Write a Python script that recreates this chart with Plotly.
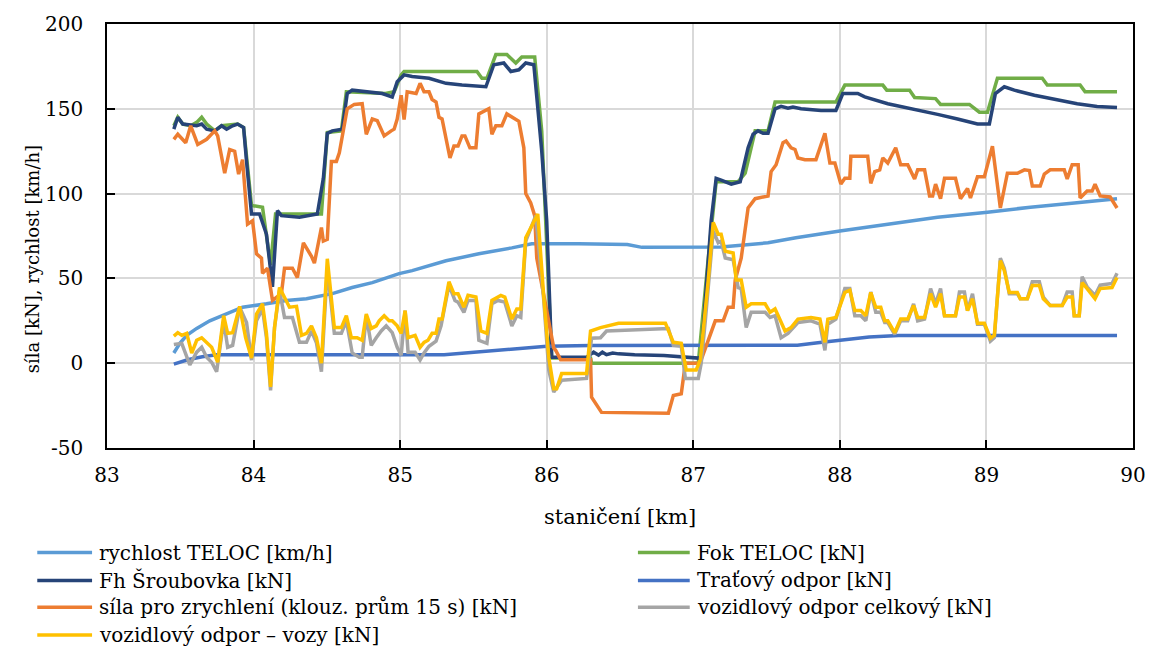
import plotly.graph_objects as go

# ---------------- data: staničení [km] / hodnota ----------------
rychlost_km = [83.456, 83.497, 83.544, 83.612, 83.701, 83.816, 83.925, 84.088, 84.224, 84.361,
               84.537, 84.673, 84.810, 84.993, 85.082, 85.313, 85.537, 85.762, 85.898, 86.218,
               86.55, 86.65, 87.19, 87.51, 87.70, 88.00, 88.30, 88.531, 88.667, 89.007,
               89.30, 89.60, 89.891]
rychlost = [6, 11.7, 16.4, 20.5, 25, 29, 33, 35, 37, 38,
            41, 44.6, 47.5, 52.8, 54.6, 60.4, 64.5, 68, 70.4, 70.4,
            70, 68.3, 68.5, 71, 74, 78, 81.5, 84.5, 86, 89,
            92, 94.5, 97]

fok_km = [83.456, 83.483, 83.517, 83.571, 83.612, 83.646, 83.680, 83.735, 83.782, 83.891,
          83.932, 83.952, 83.986, 84.061, 84.116, 84.150, 84.200, 84.463, 84.503, 84.599,
          84.633, 84.900, 84.959, 85.007, 85.027, 85.524, 85.558, 85.592, 85.653, 85.728,
          85.789, 85.830, 85.918, 85.966, 86.034, 86.299, 86.306, 87.034, 87.100, 87.156,
          87.306, 87.354, 87.422, 87.510, 87.558, 87.973, 88.034, 88.293, 88.320, 88.476,
          88.510, 88.653, 88.687, 88.884, 88.952, 89.007, 89.075, 89.381, 89.415, 89.639,
          89.673, 89.891]
fok = [140, 145, 141, 140, 142, 145, 141, 137, 140, 141,
       139, 120, 93, 92, 58, 88, 88, 88, 136, 137,
       160, 159, 160, 170, 172, 172, 168, 168, 182, 182,
       177, 180.6, 180.6, 137, 3, 3, 0, 0, 60, 107,
       107, 112, 137, 137, 154, 154, 164, 164, 161, 161,
       156.7, 156, 152.6, 152.6, 148, 148, 168, 168, 164, 164,
       160, 160]

fh_km = [83.456, 83.483, 83.517, 83.612, 83.646, 83.680, 83.735, 83.782, 83.816, 83.857,
         83.891, 83.932, 83.952, 83.986, 84.041, 84.088, 84.129, 84.163, 84.190, 84.313,
         84.435, 84.476, 84.503, 84.537, 84.605, 84.639, 84.673, 84.769, 84.878, 84.946,
         84.980, 85.027, 85.082, 85.197, 85.313, 85.422, 85.537, 85.585, 85.639, 85.707,
         85.755, 85.810, 85.857, 85.912, 85.966, 86.000, 86.034, 86.272, 86.320, 86.354,
         86.380, 86.408, 86.450, 86.490, 86.600, 86.800, 87.034, 87.054, 87.122, 87.156,
         87.190, 87.259, 87.320, 87.340, 87.374, 87.408, 87.442, 87.476, 87.510, 87.558,
         87.599, 87.646, 87.680, 87.735, 87.871, 87.973, 88.020, 88.122, 88.170, 88.327,
         88.551, 88.667, 88.803, 88.939, 89.020, 89.061, 89.122, 89.190, 89.327, 89.483,
         89.619, 89.755, 89.891]
fh = [138, 145, 141, 140, 141, 138, 137, 140, 138, 140,
      141, 139, 119, 88, 88, 76, 45, 90, 87, 86,
      88, 109, 135.5, 137, 138, 159, 161, 160, 159, 157,
      166, 170, 169, 168, 165, 164, 163, 163, 176, 177,
      172, 173, 177, 176, 125, 84, 3.5, 3.5, 6.5, 4.7,
      6.5, 5, 6, 5.5, 5, 4.5, 3, 4, 84, 109,
      108, 105.6, 107, 115, 127, 135, 137, 135.6, 135.6, 150,
      151.4, 150.3, 151, 150, 149, 149, 159, 159, 157, 153,
      148.5, 146.7, 144, 141, 141, 159, 163, 161, 158, 155.5,
      153, 151.4, 150.8]

trat_km = [83.456, 83.550, 83.650, 83.748, 85.300, 85.500, 85.750, 86.000, 86.300, 87.710,
           87.850, 88.000, 88.200, 88.400, 89.891]
trat = [-0.5, 2, 3.8, 5, 5, 6.5, 8.5, 10, 10.5, 10.6,
        12, 13.5, 15.5, 16.4, 16.4]

sila_km = [83.456, 83.483, 83.537, 83.571, 83.619, 83.680, 83.735, 83.755, 83.803, 83.837,
           83.871, 83.898, 83.925, 83.952, 83.959, 83.993, 84.020, 84.054, 84.061, 84.095,
           84.129, 84.190, 84.211, 84.265, 84.299, 84.340, 84.395, 84.415, 84.463, 84.476,
           84.503, 84.531, 84.565, 84.585, 84.639, 84.687, 84.741, 84.769, 84.810, 84.844,
           84.891, 84.939, 84.959, 84.980, 85.007, 85.027, 85.048, 85.109, 85.136, 85.163,
           85.197, 85.218, 85.245, 85.265, 85.286, 85.340, 85.367, 85.395, 85.422, 85.442,
           85.476, 85.517, 85.537, 85.605, 85.626, 85.653, 85.694, 85.728, 85.762, 85.810,
           85.844, 85.857, 85.891, 85.918, 85.932, 86.048, 86.061, 86.095, 86.299, 86.306,
           86.374, 86.830, 86.864, 86.918, 86.946, 87.034, 87.054, 87.150, 87.204, 87.238,
           87.272, 87.286, 87.327, 87.374, 87.422, 87.510, 87.531, 87.565, 87.612, 87.633,
           87.667, 87.694, 87.714, 87.762, 87.837, 87.898, 87.932, 87.966, 88.007, 88.034,
           88.068, 88.075, 88.190, 88.211, 88.238, 88.272, 88.293, 88.327, 88.381, 88.415,
           88.463, 88.510, 88.531, 88.578, 88.612, 88.633, 88.653, 88.687, 88.714, 88.789,
           88.823, 88.871, 88.891, 88.939, 88.986, 89.041, 89.095, 89.143, 89.211, 89.259,
           89.293, 89.313, 89.367, 89.395, 89.435, 89.531, 89.551, 89.585, 89.626, 89.639,
           89.687, 89.721, 89.741, 89.776, 89.844, 89.891]
sila = [132, 135, 130, 140, 129, 132, 137, 134, 112, 126,
        125, 111.5, 120, 90, 82, 84, 64.5, 62, 53, 56,
        37, 41, 56, 56, 50.5, 71, 63, 59, 80, 72,
        73, 119, 119, 124, 150, 152.6, 153, 135, 144, 143,
        134, 137, 138, 144, 158, 143.6, 160, 159, 165, 160,
        160, 155.5, 154, 145, 144, 121, 128, 128, 134, 134,
        127, 127, 147, 150, 135, 140, 140, 147, 145, 142.6,
        127, 100, 94.5, 87, 62, 9, 7.6, 2, 2, -20,
        -29, -29.5, -19, -18, 0, 0, 2, 25, 25, 33,
        33, 49, 62, 91.5, 97, 98.6, 113, 117, 130, 131,
        127, 126, 121, 120, 120, 135.6, 118, 118, 105.6, 109,
        109, 122, 122, 106, 113, 114, 121, 118, 127, 117,
        117, 108.6, 114, 114, 98.6, 98.6, 105.6, 97, 109, 109,
        97, 103, 97.4, 110, 110, 128, 91.5, 112, 112, 114,
        113.6, 104.5, 104.5, 111.5, 114, 114, 108.6, 117, 117, 97.4,
        101.5, 101.5, 105.6, 98.6, 98, 91.5]

celkovy_km = [83.456, 83.510, 83.565, 83.612, 83.646, 83.680, 83.714, 83.748, 83.796, 83.823,
              83.857, 83.905, 83.952, 83.986, 84.020, 84.061, 84.088, 84.116, 84.143, 84.177,
              84.211, 84.265, 84.313, 84.361, 84.395, 84.429, 84.463, 84.503, 84.551, 84.599,
              84.633, 84.673, 84.721, 84.741, 84.769, 84.803, 84.837, 84.871, 84.905, 84.946,
              84.980, 85.007, 85.034, 85.054, 85.102, 85.136, 85.163, 85.197, 85.245, 85.279,
              85.333, 85.374, 85.395, 85.435, 85.463, 85.517, 85.537, 85.592, 85.626, 85.667,
              85.714, 85.762, 85.796, 85.823, 85.857, 85.925, 85.980, 86.014, 86.048, 86.102,
              86.272, 86.306, 86.367, 86.408, 86.830, 86.864, 86.918, 86.946, 87.034, 87.054,
              87.082, 87.102, 87.136, 87.170, 87.190, 87.218, 87.272, 87.306, 87.327, 87.361,
              87.395, 87.490, 87.524, 87.558, 87.599, 87.646, 87.714, 87.803, 87.864, 87.898,
              87.918, 87.973, 88.034, 88.068, 88.102, 88.143, 88.177, 88.211, 88.245, 88.279,
              88.306, 88.327, 88.374, 88.415, 88.463, 88.503, 88.531, 88.578, 88.619, 88.653,
              88.687, 88.714, 88.789, 88.816, 88.850, 88.871, 88.905, 88.939, 88.986, 89.027,
              89.054, 89.095, 89.122, 89.156, 89.211, 89.231, 89.279, 89.313, 89.361, 89.388,
              89.435, 89.517, 89.551, 89.585, 89.599, 89.633, 89.653, 89.687, 89.741, 89.776,
              89.857, 89.891]
celkovy = [11, 11.7, -1, 6.5, 9.4, 3.5, 0.6, -5, 25, 9.4,
           10.5, 33, 24, 1.8, 25, 32, 15, -16, 21, 43,
           27, 27, 12.3, 12.3, 19, 12, -5, 56, 17.6, 17.6,
           25, 6, 3.5, 3.5, 28, 10.5, 15, 19, 22, 18,
           9.4, 4.7, 31, 6.5, 6.5, 1.8, 6, 10, 13, 22,
           46, 37, 36, 30, 37, 37, 13.5, 11.7, 35, 37,
           36, 22, 28, 27, 72, 87, 37, -4, -17, -10,
           -9, 14.7, 15, 19, 20.5, 10.5, 10, -9, -9, 0,
           25, 45, 78, 71, 72, 62, 61, 44.6, 44, 21,
           30, 30, 27, 28, 15, 17.6, 24, 25, 23, 7.6,
           23, 26, 44, 44, 28, 28, 25, 42, 30, 30,
           24, 24, 17, 25, 25, 35, 25, 26, 44, 35,
           44, 28, 28, 42, 42, 31, 41, 23, 23, 13,
           15, 62, 56, 41, 41, 38, 38, 48, 48, 39,
           34, 34, 42, 42, 28, 28, 51, 45, 40, 46,
           47, 53]

vozy_km = [83.456, 83.483, 83.510, 83.544, 83.578, 83.612, 83.646, 83.680, 83.714, 83.755,
           83.796, 83.823, 83.857, 83.905, 83.946, 83.986, 84.020, 84.061, 84.088, 84.116,
           84.143, 84.177, 84.211, 84.245, 84.293, 84.327, 84.361, 84.395, 84.429, 84.463,
           84.503, 84.551, 84.599, 84.633, 84.667, 84.707, 84.741, 84.769, 84.803, 84.837,
           84.857, 84.891, 84.925, 84.946, 84.980, 85.007, 85.034, 85.054, 85.102, 85.136,
           85.163, 85.190, 85.218, 85.245, 85.265, 85.286, 85.333, 85.367, 85.395, 85.435,
           85.463, 85.517, 85.551, 85.592, 85.626, 85.687, 85.714, 85.762, 85.796, 85.823,
           85.857, 85.898, 85.939, 85.980, 86.014, 86.048, 86.068, 86.102, 86.272, 86.299,
           86.367, 86.490, 86.810, 86.864, 86.918, 86.952, 87.020, 87.048, 87.082, 87.102,
           87.136, 87.170, 87.190, 87.218, 87.272, 87.293, 87.327, 87.361, 87.395, 87.490,
           87.524, 87.558, 87.585, 87.626, 87.667, 87.714, 87.803, 87.864, 87.898, 87.918,
           87.973, 88.034, 88.068, 88.102, 88.143, 88.177, 88.211, 88.245, 88.279, 88.306,
           88.327, 88.374, 88.415, 88.463, 88.503, 88.531, 88.578, 88.619, 88.653, 88.687,
           88.714, 88.789, 88.816, 88.850, 88.871, 88.905, 88.939, 88.986, 89.027, 89.054,
           89.095, 89.122, 89.156, 89.211, 89.231, 89.279, 89.313, 89.361, 89.388, 89.435,
           89.517, 89.551, 89.585, 89.599, 89.633, 89.653, 89.687, 89.741, 89.776, 89.857,
           89.891]
vozy = [16, 18, 16.4, 17.6, 6, 13.5, 15, 12.3, 9.4, 0.6,
        28, 17.6, 18, 33.5, 15, 3, 29, 35, 17.6, -14,
        21, 44.6, 39, 33, 33.5, 16.4, 17.6, 22, 15, 0,
        61.6, 21, 21, 28, 15, 15, 13.5, 29, 20.5, 22,
        25, 28, 25, 25, 22, 17.6, 31, 15, 16.4, 9.4,
        12.3, 13.5, 17.6, 17.6, 26, 26, 48, 41, 41, 33,
        40, 39, 19, 17.6, 37, 40, 39, 26, 32, 32,
        74, 81, 88, 39, 3.5, -15, -15, -6, -6, 19,
        21, 23.5, 23.5, 12.3, 11.7, -4, -4, 2, 29, 49,
        83, 76, 76, 66, 65, 49, 49, 33, 35, 35,
        30, 32, 27, 19, 21, 26, 27, 26, 12.3, 26,
        27, 41.7, 43, 31, 31, 28, 41.7, 33, 33, 25,
        25, 18, 26, 26, 34, 27, 27, 41, 33, 41,
        28, 28, 39, 39, 31, 38, 23.5, 23.5, 14.7, 16.4,
        60.4, 54.6, 41.7, 41.7, 38, 38, 45.8, 45.8, 38, 34,
        34, 39, 39, 28, 28, 47.5, 44, 38, 44, 44.6,
        50.5]

# axis ticks
x_ticks = [83, 84, 85, 86, 87, 88, 89, 90]
y_ticks = [-50, 0, 50, 100, 150, 200]
y_tick_text = ["-50", "0", "50", "100", "150", "200"]

# series in drawing / legend order
series = [
    ("rychlost TELOC [km/h]", rychlost_km, rychlost, "#5B9BD5"),
    ("Fok TELOC [kN]", fok_km, fok, "#70AD47"),
    ("Fh Šroubovka [kN]", fh_km, fh, "#264478"),
    ("Traťový odpor [kN]", trat_km, trat, "#4472C4"),
    ("síla pro zrychlení (klouz. prům 15 s) [kN]", sila_km, sila, "#ED7D31"),
    ("vozidlový odpor celkový [kN]", celkovy_km, celkovy, "#A5A5A5"),
    ("vozidlový odpor – vozy [kN]", vozy_km, vozy, "#FFC000"),
]

# ---------------- figure geometry ----------------
W, H = 1158, 650
ML, MR, MT, MB = 107, 21, 22, 202
PW, PH = W - ML - MR, H - MT - MB
FONT = "DejaVu Serif"


def paper_x(px):
    return (px - ML) / PW


def paper_y(py):
    return (H - MB - py) / PH


fig = go.Figure()
for name, xs, ys, color in series:
    fig.add_trace(go.Scatter(x=xs, y=ys, name=name, mode="lines",
                             line=dict(color=color, width=3.5), showlegend=False))

axis_common = dict(
    showgrid=True, gridcolor="#d9d9d9", gridwidth=1.5,
    showline=True, linecolor="black", linewidth=1.5, mirror=True,
    ticks="inside", ticklen=8, tickwidth=1.5, tickcolor="black",
    zeroline=False, tickfont=dict(family=FONT, size=20, color="black"),
)
fig.update_xaxes(range=[83, 90], tickmode="array", tickvals=x_ticks,
                 ticklabelstandoff=8, **axis_common)
fig.update_yaxes(range=[-50, 200], tickmode="array", tickvals=y_ticks, ticktext=y_tick_text,
                 ticklabelstandoff=18, **axis_common)

annotations = [
    dict(text="síla [kN], rychlost [km/h]", textangle=-90, x=paper_x(33), y=paper_y(258),
         xref="paper", yref="paper", showarrow=False, xanchor="center", yanchor="middle",
         font=dict(family=FONT, size=18, color="black")),
    dict(text="staničení [km]", x=0.5, y=paper_y(517), xref="paper", yref="paper",
         showarrow=False, xanchor="center", yanchor="middle",
         font=dict(family=FONT, size=21, color="black")),
]
shapes = []

# two-column legend beneath the chart
legend_cols = [(37, 92, 97), (640, 692, 697)]
legend_rows = [553, 581, 608, 636]
for i, (name, _, _, color) in enumerate(series):
    col = legend_cols[i % 2]
    row = legend_rows[i // 2]
    shapes.append(dict(type="line", xref="paper", yref="paper",
                       x0=paper_x(col[0]), x1=paper_x(col[1]),
                       y0=paper_y(row), y1=paper_y(row),
                       line=dict(color=color, width=3.5)))
    annotations.append(dict(text=name, x=paper_x(col[2]), y=paper_y(row), xref="paper",
                            yref="paper", showarrow=False, xanchor="left", yanchor="middle",
                            font=dict(family=FONT, size=20, color="black")))

fig.update_layout(
    width=W, height=H,
    margin=dict(l=ML, r=MR, t=MT, b=MB),
    paper_bgcolor="white", plot_bgcolor="white",
    annotations=annotations, shapes=shapes,
    showlegend=False,
)

fig.write_html("out.html")
